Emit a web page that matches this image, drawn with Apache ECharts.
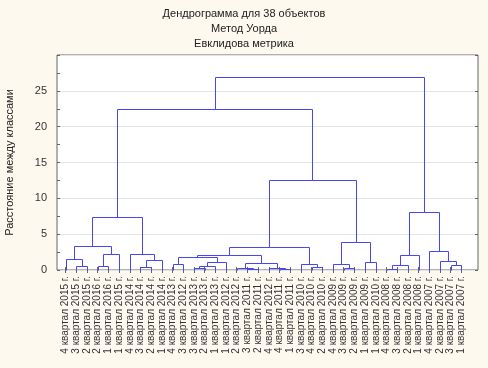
<!DOCTYPE html>
<html>
<head>
<meta charset="utf-8">
<script src="https://cdn.jsdelivr.net/npm/echarts@6/dist/echarts.min.js"></script>
<style>
  html, body { margin: 0; padding: 0; background: #fdf9ef; }
  #chart { width: 488px; height: 368px; }
</style>
</head>
<body>
<div id="chart"></div>
<script>
// подписи объектов в порядке листьев дендрограммы
var leafLabels = [
  "4 квартал 2015 г.", "3 квартал 2015 г.", "2 квартал 2015 г.", "2 квартал 2016 г.",
  "1 квартал 2016 г.", "1 квартал 2015 г.", "4 квартал 2014 г.", "3 квартал 2014 г.",
  "2 квартал 2014 г.", "1 квартал 2014 г.", "4 квартал 2013 г.", "3 квартал 2012 г.",
  "3 квартал 2013 г.", "2 квартал 2013 г.", "1 квартал 2013 г.", "1 квартал 2012 г.",
  "2 квартал 2012 г.", "3 квартал 2011 г.", "2 квартал 2011 г.", "4 квартал 2012 г.",
  "4 квартал 2011 г.", "1 квартал 2011 г.", "3 квартал 2010 г.", "4 квартал 2010 г.",
  "2 квартал 2010 г.", "4 квартал 2009 г.", "3 квартал 2009 г.", "2 квартал 2009 г.",
  "1 квартал 2009 г.", "1 квартал 2010 г.", "4 квартал 2008 г.", "3 квартал 2008 г.",
  "2 квартал 2008 г.", "1 квартал 2008 г.", "4 квартал 2007 г.", "2 квартал 2007 г.",
  "3 квартал 2007 г.", "1 квартал 2007 г."
];
// объединения: левый узел, правый узел (0..37 листья, 38.. новые кластеры)
var mergeLeft  = [17, 20, 30, 16, 12, 19, 26, 23, 7, 42, 1, 3, 36, 40, 10, 22, 25, 41, 47, 28, 35, 46, 0, 52, 51, 61, 49, 6, 34, 63, 60, 54, 68, 62, 67, 70, 73];
var mergeRight = [18, 21, 31, 38, 13, 39, 27, 24, 8, 14, 2, 4, 37, 32, 11, 45, 44, 43, 15, 29, 50, 9, 48, 56, 33, 55, 5, 59, 58, 53, 64, 57, 65, 66, 69, 72, 71];
// расстояние объединения
var mergeDist  = [0.1, 0.1, 0.2, 0.25, 0.3, 0.3, 0.3, 0.45, 0.45, 0.55, 0.6, 0.6, 0.7, 0.75, 0.8, 0.9, 0.9, 0.93, 1.07, 1.15, 1.3, 1.4, 1.6, 1.75, 2.1, 2.1, 2.2, 2.3, 2.6, 3.15, 3.4, 3.85, 7.45, 8.1, 12.6, 22.5, 27.0];

var n = leafLabels.length;
var posX = [], posY = [];
for (var i = 0; i < n; i++) { posX.push(i + 1); posY.push(0); }
var links = [];
for (var k = 0; k < mergeLeft.length; k++) {
  var a = mergeLeft[k], b = mergeRight[k];
  links.push([posX[a], posY[a], posX[b], posY[b], mergeDist[k]]);
  posX.push((posX[a] + posX[b]) / 2);
  posY.push(mergeDist[k]);
}
var leafPos = leafLabels.map(function (v, i) { return i + 1; });

var myChart = echarts.init(document.getElementById("chart"));
var option = {
  backgroundColor: "#fdf9ef",
  title: {
    text: "Дендрограмма для 38 объектов\nМетод Уорда\nЕвклидова метрика",
    left: "center",
    top: 1,
    textStyle: { fontFamily: "Liberation Sans", fontSize: 11, fontWeight: "normal", color: "#222", lineHeight: 15 }
  },
  grid: {
    left: 57, right: 10, top: 55, bottom: 98,
    outerBoundsMode: "none",
    show: true, backgroundColor: "#fff", borderColor: "#666", borderWidth: 1
  },
  xAxis: [
    {
      type: "value", min: 0.2, max: 39.55, position: "bottom",
      axisLine: { show: false },
      splitLine: { show: false },
      axisTick: { show: true, inside: true, length: 3, customValues: leafPos, lineStyle: { color: "#666" } },
      axisLabel: {
        customValues: leafPos, rotate: 90, margin: 6,
        fontFamily: "Liberation Sans", fontSize: 10, color: "#333",
        formatter: function (v) { return leafLabels[Math.round(v) - 1]; }
      }
    },
    {
      type: "value", min: 0.2, max: 39.55, position: "top",
      axisLine: { show: false },
      splitLine: { show: false },
      axisTick: { show: true, inside: true, length: 3, customValues: leafPos, lineStyle: { color: "#666" } },
      axisLabel: { show: false }
    }
  ],
  yAxis: [
    {
      type: "value", min: 0, max: 30, interval: 5,
      name: "Расстояние между классами",
      nameLocation: "middle", nameGap: 42, nameRotate: 90,
      nameTextStyle: { fontFamily: "Liberation Sans", fontSize: 11, color: "#222" },
      axisLine: { show: false },
      axisTick: { show: true, inside: true, length: 3, lineStyle: { color: "#666" } },
      minorTick: { show: true, splitNumber: 2, length: 3, lineStyle: { color: "#666" } },
      splitLine: { show: true, lineStyle: { color: "#e4e4e4" } },
      axisLabel: {
        fontFamily: "Liberation Sans", fontSize: 11, color: "#333", margin: 10,
        formatter: function (v) { return v === 30 ? "" : String(v); }
      }
    },
    {
      type: "value", min: 0, max: 30, interval: 5, position: "right",
      axisLine: { show: false },
      axisTick: { show: true, inside: true, length: 3, lineStyle: { color: "#666" } },
      splitLine: { show: false },
      axisLabel: { show: false }
    }
  ],
  series: [
    {
      type: "custom",
      coordinateSystem: "cartesian2d",
      silent: true,
      data: links,
      renderItem: function (params, api) {
        var p1 = api.coord([api.value(0), api.value(1)]);
        var p2 = api.coord([api.value(0), api.value(4)]);
        var p3 = api.coord([api.value(2), api.value(4)]);
        var p4 = api.coord([api.value(2), api.value(3)]);
        var pts = [p1, p2, p3, p4].map(function (p) {
          return [Math.round(p[0]) + 0.5, Math.round(p[1]) + 0.5];
        });
        return {
          type: "polyline",
          shape: { points: pts },
          style: { stroke: "#4646f5", lineWidth: 1, fill: null }
        };
      }
    }
  ]
};
myChart.setOption(option);
</script>
</body>
</html>
